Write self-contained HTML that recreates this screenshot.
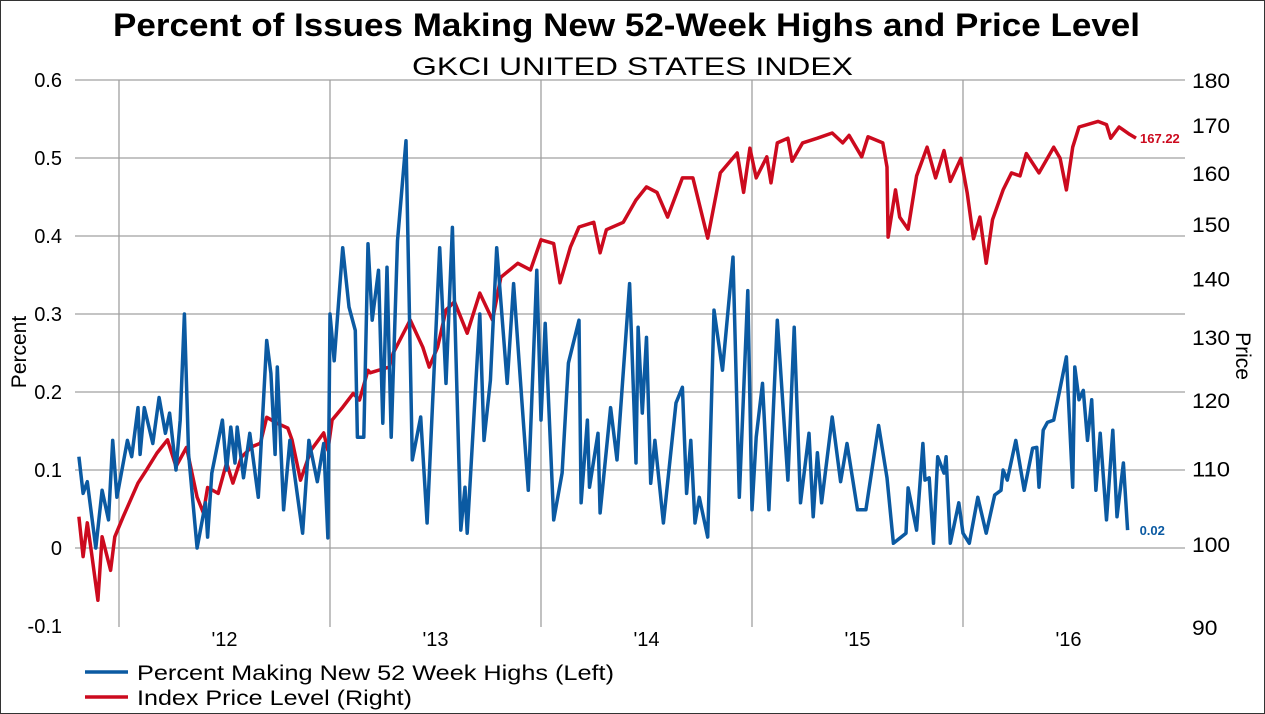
<!DOCTYPE html>
<html><head><meta charset="utf-8"><style>
html,body{margin:0;padding:0;background:#fff}
svg{display:block;font-family:"Liberation Sans",sans-serif}
</style></head><body>
<svg width="1265" height="714" viewBox="0 0 1265 714">
<rect x="0.5" y="0.5" width="1264" height="713" fill="#fff" stroke="#333"/>
<text x="113" y="36" font-size="32" font-weight="bold" textLength="1027" lengthAdjust="spacingAndGlyphs">Percent of Issues Making New 52-Week Highs and Price Level</text>
<text x="412" y="75" font-size="25" textLength="441" lengthAdjust="spacingAndGlyphs">GKCI UNITED STATES INDEX</text>
<g id="grid"></g>
<g id="leftTicks"></g>
<g id="rightTicks"></g>
<g id="xTicks"></g>
<text transform="translate(26,352) rotate(-90)" text-anchor="middle" font-size="21">Percent</text>
<text transform="translate(1236,356) rotate(90)" text-anchor="middle" font-size="21">Price</text>
<g id="series"></g>
<g>
<line x1="85" y1="672" x2="128" y2="672" stroke="#0b5aa2" stroke-width="3.5"/>
<text x="137" y="680" font-size="21" textLength="477" lengthAdjust="spacingAndGlyphs">Percent Making New 52 Week Highs (Left)</text>
<line x1="85" y1="697" x2="128" y2="697" stroke="#cc0a1e" stroke-width="3.5"/>
<text x="137" y="705" font-size="21" textLength="275" lengthAdjust="spacingAndGlyphs">Index Price Level (Right)</text>
</g>
</svg>
<script>
const leftTickValues=[-0.1,0,0.1,0.2,0.3,0.4,0.5,0.6];
const leftTickLabels=["-0.1","0","0.1","0.2","0.3","0.4","0.5","0.6"];
const rightTickValues=[90,100,110,120,130,140,150,160,170,180];
const yearGrid=[2012,2013,2014,2015,2016];
const yearLabels=["'12","'13","'14","'15","'16"];
const blueDates=[2011.81,2011.83,2011.85,2011.89,2011.92,2011.95,2011.97,2011.99,2012.04,2012.06,2012.09,2012.10,2012.12,2012.16,2012.19,2012.22,2012.24,2012.27,2012.29,2012.31,2012.33,2012.37,2012.41,2012.42,2012.44,2012.49,2012.51,2012.53,2012.55,2012.56,2012.59,2012.62,2012.66,2012.70,2012.72,2012.74,2012.75,2012.78,2012.81,2012.87,2012.90,2012.94,2012.97,2012.99,2013.00,2013.02,2013.06,2013.09,2013.12,2013.13,2013.16,2013.18,2013.20,2013.23,2013.25,2013.27,2013.29,2013.32,2013.36,2013.39,2013.43,2013.46,2013.52,2013.55,2013.58,2013.62,2013.64,2013.65,2013.71,2013.73,2013.76,2013.79,2013.84,2013.87,2013.91,2013.94,2013.98,2014.00,2014.02,2014.06,2014.10,2014.13,2014.18,2014.19,2014.22,2014.23,2014.27,2014.28,2014.33,2014.36,2014.42,2014.45,2014.46,2014.48,2014.50,2014.52,2014.54,2014.58,2014.64,2014.67,2014.69,2014.71,2014.73,2014.75,2014.79,2014.82,2014.86,2014.91,2014.94,2014.98,2015.00,2015.02,2015.05,2015.08,2015.12,2015.17,2015.20,2015.23,2015.27,2015.29,2015.31,2015.33,2015.38,2015.42,2015.45,2015.50,2015.54,2015.60,2015.64,2015.67,2015.73,2015.74,2015.78,2015.81,2015.82,2015.84,2015.86,2015.88,2015.91,2015.92,2015.94,2015.98,2016.00,2016.03,2016.07,2016.11,2016.15,2016.18,2016.19,2016.21,2016.25,2016.29,2016.33,2016.35,2016.36,2016.38,2016.40,2016.43,2016.49,2016.52,2016.53,2016.55,2016.57,2016.59,2016.61,2016.63,2016.65,2016.68,2016.71,2016.73,2016.76,2016.78];
const blueValues=[0.117,0.07,0.085,0.0,0.074,0.036,0.138,0.065,0.138,0.117,0.18,0.12,0.18,0.134,0.193,0.147,0.173,0.10,0.164,0.30,0.12,0.0,0.058,0.014,0.096,0.164,0.10,0.155,0.109,0.155,0.09,0.147,0.065,0.266,0.224,0.12,0.232,0.049,0.138,0.019,0.138,0.085,0.134,0.013,0.30,0.24,0.385,0.309,0.279,0.142,0.142,0.39,0.292,0.356,0.16,0.36,0.142,0.394,0.522,0.113,0.168,0.032,0.385,0.211,0.411,0.023,0.078,0.019,0.30,0.138,0.215,0.385,0.211,0.339,0.186,0.074,0.356,0.164,0.288,0.036,0.096,0.237,0.292,0.058,0.164,0.078,0.147,0.045,0.18,0.113,0.339,0.109,0.283,0.173,0.27,0.083,0.138,0.032,0.186,0.206,0.07,0.138,0.032,0.065,0.014,0.305,0.228,0.373,0.065,0.33,0.049,0.142,0.211,0.049,0.292,0.087,0.283,0.058,0.147,0.04,0.122,0.058,0.168,0.085,0.134,0.049,0.049,0.157,0.09,0.006,0.019,0.077,0.023,0.134,0.087,0.09,0.006,0.117,0.096,0.117,0.006,0.058,0.019,0.006,0.065,0.019,0.068,0.074,0.10,0.087,0.138,0.074,0.128,0.129,0.078,0.151,0.161,0.164,0.245,0.078,0.232,0.19,0.202,0.138,0.19,0.074,0.147,0.036,0.151,0.04,0.109,0.023];
const redDates=[2011.81,2011.83,2011.85,2011.87,2011.90,2011.92,2011.96,2011.98,2012.02,2012.09,2012.13,2012.18,2012.23,2012.27,2012.32,2012.37,2012.40,2012.42,2012.47,2012.51,2012.54,2012.58,2012.63,2012.67,2012.70,2012.75,2012.80,2012.82,2012.86,2012.91,2012.97,2012.99,2013.01,2013.06,2013.11,2013.14,2013.18,2013.19,2013.28,2013.30,2013.38,2013.44,2013.47,2013.51,2013.55,2013.59,2013.65,2013.71,2013.77,2013.81,2013.89,2013.95,2014.00,2014.06,2014.09,2014.14,2014.18,2014.25,2014.28,2014.31,2014.39,2014.45,2014.50,2014.55,2014.60,2014.67,2014.72,2014.79,2014.85,2014.93,2014.96,2014.99,2015.02,2015.07,2015.09,2015.12,2015.17,2015.19,2015.24,2015.31,2015.38,2015.43,2015.46,2015.52,2015.55,2015.62,2015.64,2015.645,2015.68,2015.70,2015.74,2015.78,2015.83,2015.87,2015.91,2015.94,2015.99,2016.02,2016.05,2016.08,2016.11,2016.14,2016.19,2016.23,2016.27,2016.30,2016.36,2016.43,2016.46,2016.49,2016.52,2016.55,2016.64,2016.68,2016.70,2016.74,2016.79,2016.82];
const redValues=[103.5,98.4,102.7,98.8,93.1,100.9,96.7,100.9,103.5,108,109.8,112.2,114.1,110.3,113,106.1,104,107.4,106.6,110.8,108,111.6,113.1,113.6,117.4,116.5,115.8,114.1,108.4,112.6,115.1,112.6,117,118.9,121,120,124.6,124.2,125.1,127.4,132.8,128.3,125.1,128.3,134.5,135.9,130.6,137.4,132.8,140.2,142.7,141.5,147,146.3,139.2,145.7,149.4,150.3,144.6,148.9,150.3,154.6,157.2,156.1,151.3,159,159,147.3,160,164.1,156.1,165.1,159,163.3,158,166.2,167.2,162.4,166.2,167.2,168.3,166.2,167.8,163.3,167.5,166.2,161.2,147.5,156.6,151.3,149,159.4,165.3,159,164.6,158.3,163,156,147.2,151.3,142.7,150.8,156.6,160,159.4,164,160,165.3,163,156.6,165.3,169.6,170.8,170.1,167.2,169.6,168,167.22];
const blueEndLabel="0.02";
const redEndLabel="167.22";

const NS="http://www.w3.org/2000/svg";
const X0=119,PXY=211,PL=75,PR=1185,PT=80,PB=627;
function xScale(t){return X0+(t-2012)*PXY;}
function yLeft(v){return 548-(v)*(548-80)/0.6;}
function yRight(p){return PB-(PB-PT)*Math.log2(p/90);}
function mk(tag,attrs,parent){const e=document.createElementNS(NS,tag);for(const k in attrs)e.setAttribute(k,attrs[k]);parent.appendChild(e);return e;}

const grid=document.getElementById('grid');
leftTickValues.forEach(v=>{
  if(v<0)return;
  const l=mk('line',{x1:PL,x2:PR,y1:yLeft(v),y2:yLeft(v),stroke:'#a0a0a0','stroke-width':1.3},grid);
  
  
});
yearGrid.forEach(y=>{
  const l=mk('line',{x1:xScale(y),x2:xScale(y),y1:PT,y2:PB,stroke:'#a0a0a0','stroke-width':1.3},grid);
  
  
});
const lt=document.getElementById('leftTicks');
leftTickValues.forEach((v,i)=>{
  const t=mk('text',{x:62,y:yLeft(v)+7,'text-anchor':'end','font-size':20},lt);
  t.textContent=leftTickLabels[i];
  
  
});
const rt=document.getElementById('rightTicks');
rightTickValues.forEach(v=>{
  const str=String(v);
  const t=mk('text',{x:1192,y:yRight(v)+8,'font-size':21,textLength:str.length*12.7,lengthAdjust:'spacingAndGlyphs'},rt);
  t.textContent=str;
  
  
});
const xt=document.getElementById('xTicks');
yearGrid.forEach((y,i)=>{
  const t=mk('text',{x:xScale(y+0.5),y:646,'text-anchor':'middle','font-size':20},xt);
  t.textContent=yearLabels[i];
  
  
});
const s=document.getElementById('series');
const redPath=mk('path',{d:redDates.map((d,i)=>(i?'L':'M')+xScale(d).toFixed(1)+' '+yRight(redValues[i]).toFixed(1)).join(''),fill:'none',stroke:'#cc0a1e','stroke-width':3.5,'stroke-linejoin':'round'},s);


const bluePath=mk('path',{d:blueDates.map((d,i)=>(i?'L':'M')+xScale(d).toFixed(1)+' '+yLeft(blueValues[i]).toFixed(1)).join(''),fill:'none',stroke:'#0b5aa2','stroke-width':3.5,'stroke-linejoin':'round'},s);


const rl=mk('text',{x:xScale(redDates[redDates.length-1])+4,y:yRight(redValues[redValues.length-1])+5,'font-size':13,'font-weight':'bold',fill:'#cc0a1e'},s);
rl.textContent=redEndLabel;


const bl=mk('text',{x:xScale(blueDates[blueDates.length-1])+12,y:yLeft(blueValues[blueValues.length-1])+5,'font-size':13,'font-weight':'bold',fill:'#0b5aa2'},s);
bl.textContent=blueEndLabel;


</script>
</body></html>
